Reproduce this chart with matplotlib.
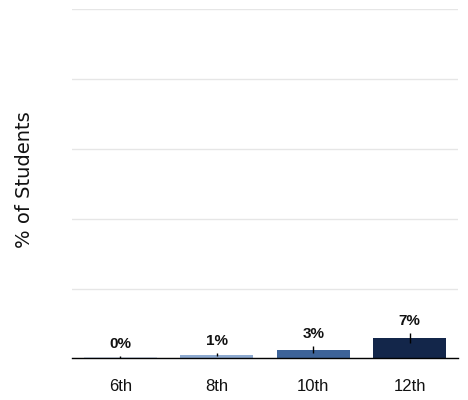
import matplotlib
matplotlib.use("Agg")
import matplotlib.pyplot as plt

grades = ["6th", "8th", "10th", "12th"]
values = [0.5, 1.3, 3.2, 7.3]
errors = [0.3, 0.5, 1.1, 1.8]
value_labels = ["0%", "1%", "3%", "7%"]
colors = ["#d3dce9", "#8eaad0", "#3d6399", "#13264a"]
yticks = [0, 25, 50, 75, 100, 125]

fig = plt.figure(figsize=(4.68, 4.0), dpi=100)
ax = fig.add_axes([0.1538, 0.1038, 0.8248, 0.8737])

x = list(range(len(grades)))
ax.bar(x, values, width=0.76, color=colors, zorder=2)
ax.errorbar(x, values, yerr=errors, fmt="none", ecolor="black", elinewidth=1, capsize=0, zorder=3)
for xi, v, e, lab in zip(x, values, errors, value_labels):
    ax.annotate(lab, (xi, v + e), xytext=(0, 6), textcoords="offset points",
                ha="center", va="baseline", fontsize=11, fontweight="bold",
                family="Liberation Sans", color="#111111")

ax.set_xlim(-0.5, 3.5)
ax.set_ylim(0, 125)
ax.set_yticks(yticks)
ax.set_yticklabels([])
ax.tick_params(axis="y", length=0)
ax.grid(axis="y", color="#e6e6e6", linewidth=1, zorder=0)
ax.set_xticks(x)
ax.set_xticklabels(grades, fontsize=12, family="Liberation Sans", color="#111111")
ax.tick_params(axis="x", length=0, pad=15)
for s in ["top", "right", "left"]:
    ax.spines[s].set_visible(False)
ax.spines["bottom"].set_color("black")
ax.spines["bottom"].set_linewidth(1)
ax.spines["bottom"].set_zorder(4)
fig.text(25 / 468, 1 - 180 / 400, "% of Students", rotation=90, ha="center", va="center",
         fontsize=14, family="DejaVu Sans", color="#111111")

fig.savefig("out.png", dpi=100)
